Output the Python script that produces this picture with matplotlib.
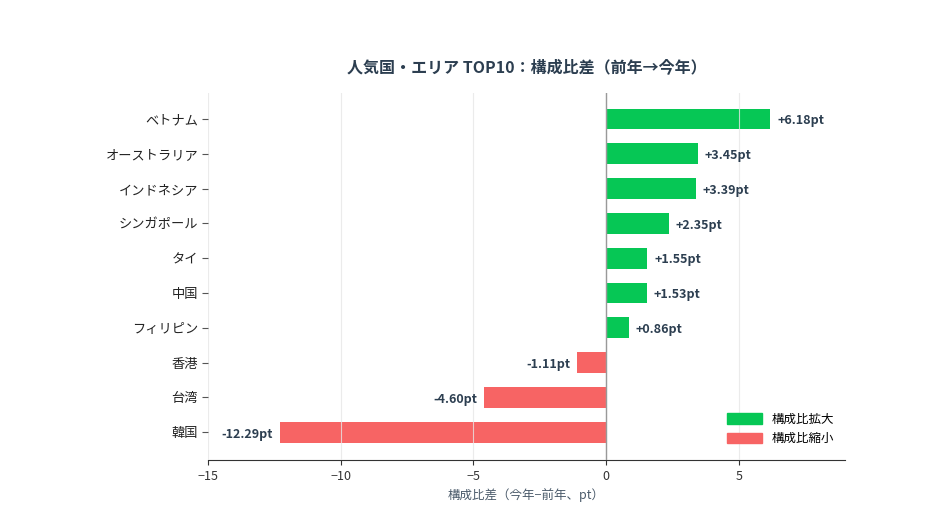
import matplotlib.pyplot as plt
from matplotlib.patches import Patch

plt.rcParams['font.family'] = ['Noto Sans CJK JP', 'DejaVu Sans']

countries = ['ベトナム', 'オーストラリア', 'インドネシア', 'シンガポール', 'タイ',
             '中国', 'フィリピン', '香港', '台湾', '韓国']
diffs = [6.18, 3.45, 3.39, 2.35, 1.55, 1.53, 0.86, -1.11, -4.60, -12.29]

green = '#06c755'
red = '#f76464'
text_col = '#2c3e50'

fig = plt.figure(figsize=(9.32, 5.13), dpi=100)
ax = fig.add_axes([0.223, 0.103, 0.684, 0.716])

colors = [green if d >= 0 else red for d in diffs]
ypos = list(range(len(countries)))
ax.barh(ypos, diffs, height=0.6, color=colors, zorder=1)

ax.axvline(0, color='#999999', linewidth=1.0, zorder=3)
ax.grid(axis='x', color='#e6e6e6', linewidth=0.8, alpha=0.8, zorder=2)
ax.set_axisbelow(False)

for y, d in zip(ypos, diffs):
    label = f'{d:+.2f}pt'
    if d >= 0:
        ax.text(d + 0.25, y + 0.05, label, va='center', ha='left', fontsize=9,
                fontweight='bold', color=text_col)
    else:
        ax.text(d - 0.25, y + 0.05, label, va='center', ha='right', fontsize=9,
                fontweight='bold', color=text_col)

ax.set_yticks(ypos)
ax.set_yticklabels(countries, fontsize=9.5, color='#222222')
ax.set_ylim(9.8, -0.75)
ax.set_xlim(-15, 9)
ax.set_xticks([-15, -10, -5, 0, 5])
ax.set_xticklabels(['−15', '−10', '−5', '0', '5'])
ax.tick_params(axis='x', labelsize=9, colors='#333333')
ax.tick_params(axis='y', length=4, color='#555555', pad=3)

for s in ['top', 'right', 'left']:
    ax.spines[s].set_visible(False)
ax.spines['bottom'].set_color('#333333')

ax.set_xlabel('構成比差（今年−前年、pt）', fontsize=9, color='#4a5a6a')
ax.set_title('人気国・エリア TOP10：構成比差（前年→今年）', fontsize=11.5,
             fontweight='bold', color=text_col, pad=14)

handles = [Patch(color=green, label='構成比拡大'),
           Patch(color=red, label='構成比縮小')]
ax.legend(handles=handles, loc='lower right', frameon=False, fontsize=9,
          handlelength=2.8, handleheight=0.9, bbox_to_anchor=(1.0, 0.01))

fig.savefig('out.png', dpi=100)
